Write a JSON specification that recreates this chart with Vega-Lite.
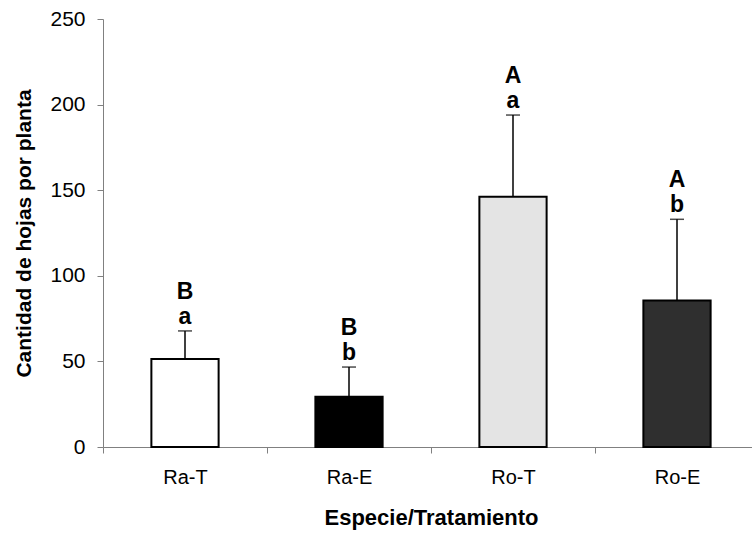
{
  "$schema": "https://vega.github.io/schema/vega-lite/v6.json",
  "width": 656,
  "height": 428,
  "autosize": "none",
  "padding": {"left": 103, "top": 19, "right": 0, "bottom": 89},
  "config": {"view": {"stroke": null}, "font": "Liberation Sans"},
  "data": {"values": [
    {"g": "Ra-T", "mean": 51.4, "err": 67.8, "cap": "B", "low": "a"},
    {"g": "Ra-E", "mean": 29.4, "err": 46.7, "cap": "B", "low": "b"},
    {"g": "Ro-T", "mean": 146.2, "err": 193.9, "cap": "A", "low": "a"},
    {"g": "Ro-E", "mean": 85.5, "err": 133.0, "cap": "A", "low": "b"}
  ]},
  "encoding": {
    "x": {
      "field": "g", "type": "nominal", "sort": null,
      "scale": {"paddingInner": 0, "paddingOuter": 0},
      "axis": {
        "title": "Especie/Tratamiento", "labelAngle": 0,
        "tickBand": "extent", "domainColor": "#808080", "tickColor": "#808080",
        "tickSize": 6, "labelFontSize": 20, "labelColor": "black", "labelPadding": 14,
        "titleFontSize": 22, "titleFontWeight": "bold", "titleColor": "black", "titlePadding": 20
      }
    }
  },
  "layer": [
    {
      "mark": {"type": "rule", "color": "black", "strokeWidth": 1.5},
      "encoding": {
        "y": {"field": "mean", "type": "quantitative", "scale": {"domain": [0, 250], "nice": false},
          "axis": {
            "title": "Cantidad de hojas por planta", "values": [0, 50, 100, 150, 200, 250],
            "grid": false, "domainColor": "#808080", "tickColor": "#808080", "tickSize": 6,
            "labelFontSize": 21, "labelColor": "black", "labelPadding": 12,
            "titleFontSize": 21, "titleFontWeight": "bold", "titleColor": "black", "titlePadding": 15
          }},
        "y2": {"field": "err"}
      }
    },
    {
      "mark": {"type": "tick", "color": "black", "thickness": 1.5, "size": 14},
      "encoding": {"y": {"field": "err", "type": "quantitative", "scale": {"domain": [0, 250], "nice": false}}}
    },
    {
      "mark": {"type": "bar", "width": {"band": 0.41}, "stroke": "black", "strokeWidth": 2},
      "encoding": {
        "y": {"field": "mean", "type": "quantitative", "scale": {"domain": [0, 250], "nice": false}},
        "fill": {"field": "g", "type": "nominal", "sort": null,
          "scale": {"domain": ["Ra-T", "Ra-E", "Ro-T", "Ro-E"], "range": ["#ffffff", "#000000", "#e4e4e4", "#2f2f2f"]},
          "legend": null}
      }
    },
    {
      "mark": {"type": "text", "fontSize": 23, "fontWeight": "bold", "color": "black", "baseline": "alphabetic", "dy": -7},
      "encoding": {"y": {"field": "err", "type": "quantitative", "scale": {"domain": [0, 250], "nice": false}}, "text": {"field": "low"}}
    },
    {
      "mark": {"type": "text", "fontSize": 23, "fontWeight": "bold", "color": "black", "baseline": "alphabetic", "dy": -32},
      "encoding": {"y": {"field": "err", "type": "quantitative", "scale": {"domain": [0, 250], "nice": false}}, "text": {"field": "cap"}}
    }
  ]
}
